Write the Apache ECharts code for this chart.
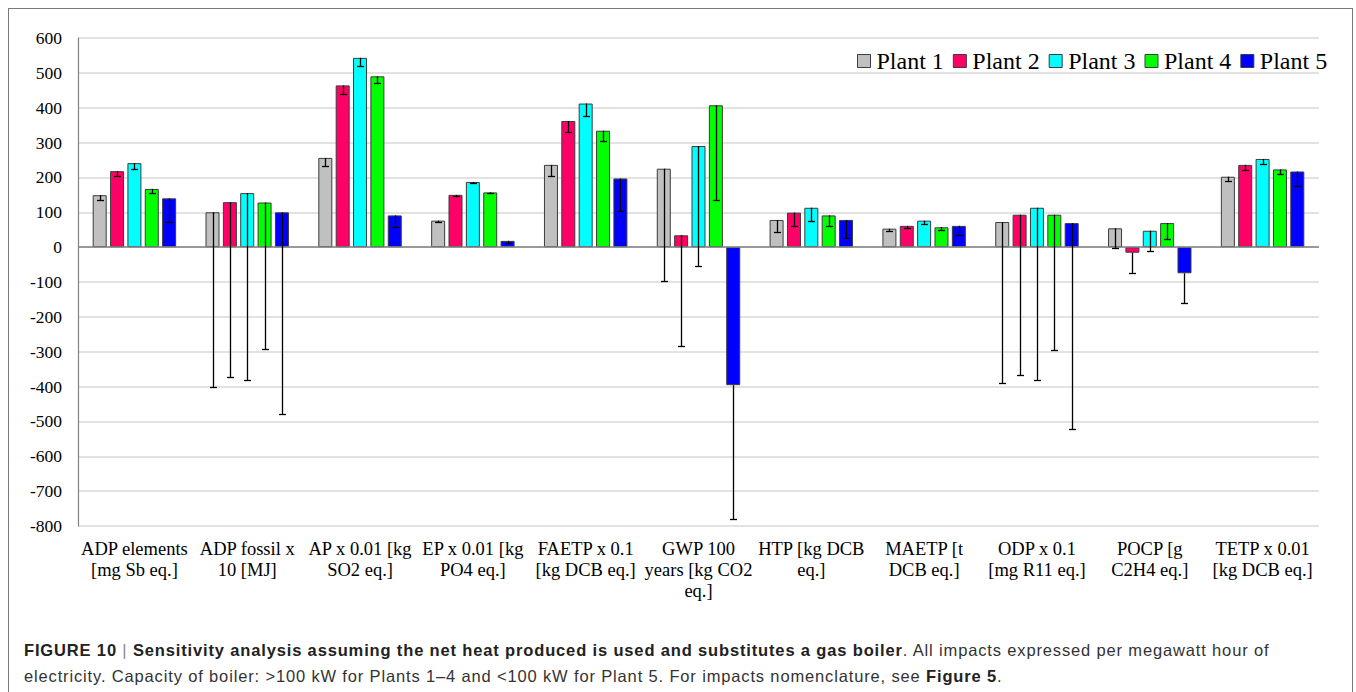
<!DOCTYPE html>
<html>
<head>
<meta charset="utf-8">
<script src="https://cdn.jsdelivr.net/npm/echarts@6/dist/echarts.min.js"></script>
<style>
  html, body { margin: 0; padding: 0; background: #fff; }
  #frame { position: absolute; left: 8px; top: 8px; width: 1345px; height: 700px;
           border: 1px solid #7a7a7a; box-sizing: border-box; }
  #chart { position: absolute; left: 0; top: 0; width: 1356px; height: 620px; }
  #caption { position: absolute; left: 24px; top: 637px; width: 1320px;
             font-family: "Liberation Sans", Arial, sans-serif; font-size: 16.5px;
             letter-spacing: 0.85px;
             line-height: 26px; color: #333; white-space: nowrap; }
  #caption b { color: #222; }
  #caption .sep { font-weight: normal; color: #888; }
</style>
</head>
<body>
<div id="frame"></div>
<div id="chart"></div>
<div id="caption"><b>FIGURE 10 <span class="sep">|</span> Sensitivity analysis assuming the net heat produced is used and substitutes a gas boiler</b>. All impacts expressed per megawatt hour of<br>electricity. Capacity of boiler: &gt;100 kW for Plants 1–4 and &lt;100 kW for Plant 5. For impacts nomenclature, see <b>Figure 5</b>.</div>
<script>
const categories = [
  "ADP elements\n[mg Sb eq.]",
  "ADP fossil x\n10 [MJ]",
  "AP x 0.01 [kg\nSO2 eq.]",
  "EP x 0.01 [kg\nPO4 eq.]",
  "FAETP x 0.1\n[kg DCB eq.]",
  "GWP 100\nyears [kg CO2\neq.]",
  "HTP [kg DCB\neq.]",
  "MAETP [t\nDCB eq.]",
  "ODP x 0.1\n[mg R11 eq.]",
  "POCP [g\nC2H4 eq.]",
  "TETP x 0.01\n[kg DCB eq.]"
];
const seriesNames = ["Plant 1", "Plant 2", "Plant 3", "Plant 4", "Plant 5"];
const plant1 = [149, 100, 256, 76, 236, 225, 78, 53, 72, 54, 202];
const plant2 = [218, 129, 464, 150, 362, 34, 99, 61, 93, -16, 236];
const plant3 = [241, 155, 543, 187, 412, 290, 113, 76, 113, 47, 253];
const plant4 = [167, 128, 490, 157, 334, 407, 91, 57, 93, 69, 223];
const plant5 = [140, 100, 91, 18, 197, -396, 78, 61, 69, -75, 217];
// lower ends of the (minus-only) error bars
const plant1Low = [136, -402, 233, 72, 204, -97, 43, 46, -390, -2, 189];
const plant2Low = [205, -373, 440, 147, 329, -285, 61, 54, -368, -73, 222];
const plant3Low = [225, -381, 519, 185, 376, -55, 75, 66, -380, -12, 238];
const plant4Low = [156, -293, 471, 155, 305, 136, 61, 50, -294, 22, 211];
const plant5Low = [72, -478, 57, 12, 103, -779, 26, 35, -522, -160, 175];
const yTicks = { min: -800, max: 600, interval: 100 };

const values = [plant1, plant2, plant3, plant4, plant5];
const lows = [plant1Low, plant2Low, plant3Low, plant4Low, plant5Low];
const colors = ["#c0c0c0", "#ff0066", "#00ffff", "#00ff00", "#0000ff"];

const BAR_W = 14;
const BAR_GAP = 0.24; // fraction of bar width
const step = BAR_W * (1 + BAR_GAP);
const serif = "'Liberation Serif', 'Times New Roman', serif";

const series = [];
values.forEach((vals, i) => {
  series.push({
    name: seriesNames[i],
    type: 'bar',
    data: vals,
    barWidth: BAR_W,
    barGap: (BAR_GAP * 100) + '%',
    itemStyle: { color: colors[i], borderColor: '#3c3c3c', borderWidth: 1 },
    emphasis: { disabled: true },
    markLine: i === 0 ? {
      silent: true, symbol: 'none', label: { show: false },
      lineStyle: { color: '#808080', width: 1.5, type: 'solid' },
      data: [{ yAxis: 0 }], animation: false
    } : undefined,
    z: 2
  });
});
values.forEach((vals, i) => {
  const data = vals.map((v, k) => [k, v, lows[i][k]]);
  const off = (i - 2) * step;
  series.push({
    name: seriesNames[i] + ' err',
    type: 'custom',
    data: data,
    z: 5,
    silent: true,
    renderItem: function (params, api) {
      const top = api.coord([api.value(0), api.value(1)]);
      const bot = api.coord([api.value(0), api.value(2)]);
      const x = Math.round(top[0] + off) + 0.5;
      const y2 = Math.round(bot[1]) + 0.5;
      const st = { stroke: '#000', lineWidth: 1.3 };
      return {
        type: 'group',
        children: [
          { type: 'line', shape: { x1: x, y1: top[1], x2: x, y2: y2 }, style: st },
          { type: 'line', shape: { x1: x - 3.5, y1: y2, x2: x + 3.5, y2: y2 }, style: st }
        ]
      };
    }
  });
});

const chart = echarts.init(document.getElementById('chart'), null, { renderer: 'svg' });
chart.setOption({
  animation: false,
  legend: {
    data: seriesNames,
    left: 857, top: 49, padding: 0,
    icon: 'rect', itemWidth: 13, itemHeight: 13, itemGap: 9,
    textStyle: { fontFamily: serif, fontSize: 24, color: '#000', padding: [0, 0, 0, 1] },
    itemStyle: { borderColor: '#3c3c3c', borderWidth: 1 }
  },
  grid: { left: 78, right: 37, top: 38, bottom: 94, containLabel: false },
  xAxis: {
    type: 'category',
    data: categories,
    axisLine: { show: false, onZero: false },
    axisTick: { show: false },
    axisLabel: { interval: 0, margin: 12, fontFamily: serif, fontSize: 18.5,
                 lineHeight: 21, color: '#000' }
  },
  yAxis: {
    type: 'value',
    min: yTicks.min, max: yTicks.max, interval: yTicks.interval,
    axisLine: { show: true, lineStyle: { color: '#808080', width: 1.2 } },
    axisTick: { show: false },
    axisLabel: { margin: 16, fontFamily: serif, fontSize: 17.5, color: '#000' },
    splitLine: { lineStyle: { color: '#d9d9d9', width: 1.5 } }
  },
  series: series
});
</script>
</body>
</html>
